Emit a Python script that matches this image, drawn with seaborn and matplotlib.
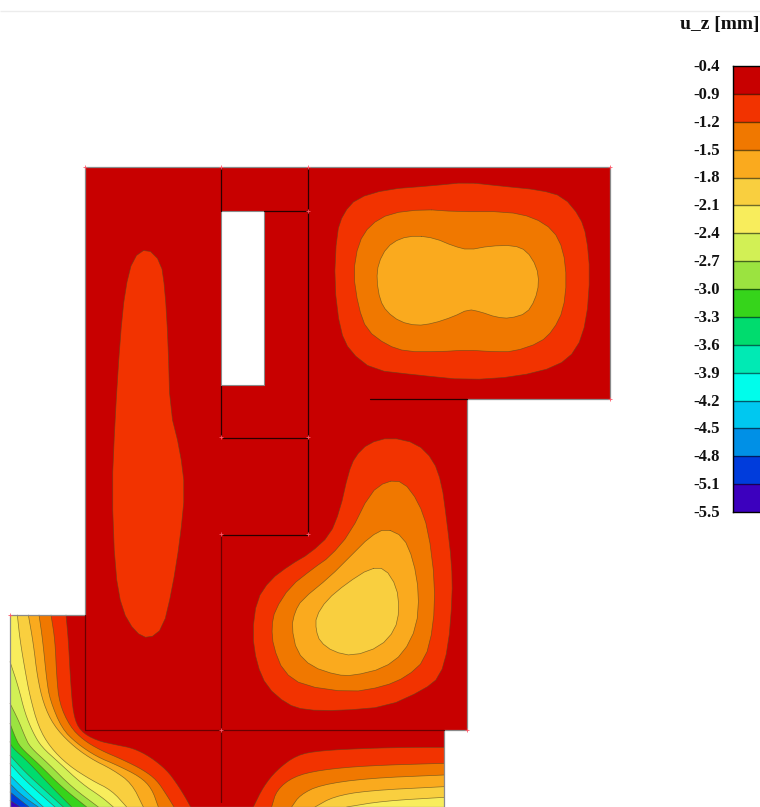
import numpy as np
import matplotlib
matplotlib.use("Agg")
import matplotlib.pyplot as plt
from matplotlib.colors import ListedColormap
from matplotlib.patches import Polygon
import seaborn as sns

# ---- legend data ----
LEGEND_TITLE = "u_z [mm]"
level_labels = ["-0.4", "-0.9", "-1.2", "-1.5", "-1.8", "-2.1", "-2.4", "-2.7", "-3.0",
                "-3.3", "-3.6", "-3.9", "-4.2", "-4.5", "-4.8", "-5.1", "-5.5"]
band_colors = ["#C80000", "#F23300", "#F07800", "#FAAA1E", "#F9CF3F", "#F8ED5C", "#D2F055",
               "#9BE340", "#36D41B", "#00DC6E", "#00EAB4", "#00FDEB", "#00C8F0", "#0090E6",
               "#003CDC", "#3C00BE"]

# ---- structure outline (plot coordinates) ----
domain = [(85, 167), (610, 167), (610, 399), (467, 399), (467, 730), (444, 730), (444, 807),
          (10, 807), (10, 615), (85, 615)]
opening = [(221, 211), (264, 211), (264, 385), (221, 385)]
dark_seams = [[(85, 615), (85, 729.5)], [(85, 729.5), (444, 729.5)], [(220.7, 534), (220.7, 802)]]
black_seams = [[(220.7, 167), (220.7, 211)], [(220.7, 386), (220.7, 436)], [(308, 167), (308, 436)],
               [(308, 439), (308, 533)], [(264, 211), (308, 211)],
               [(223, 437.5), (307, 437.5)], [(223, 535), (307, 535)], [(370, 399), (467, 399)]]
node_marks = [(85, 167), (221, 167), (308, 167), (610, 167), (610, 399), (467, 730), (10, 615),
              (221, 730), (308, 211), (308, 437), (221, 437), (308, 534), (221, 534)]

# ---- closed iso-regions: (band, outline) ----
left_c1 = [(147, 248), (133, 258), (125, 290), (120, 340), (115, 420), (112, 490), (115, 570),
           (122, 610), (135, 632), (149, 639), (163, 628), (172, 590), (180, 540), (185, 490),
           (180, 450), (170, 410), (168, 340), (165, 290), (161, 262)]


def crop(points, ox, oy):
    return [(ox + x / 3, oy + y / 3) for x, y in points]


top_c1 = crop([(500, 67), (600, 78), (720, 90), (790, 110), (840, 170), (860, 230), (870, 340),
               (860, 480), (830, 570), (770, 620), (650, 650), (500, 660), (350, 645), (220, 630),
               (150, 575), (120, 510), (103, 370), (110, 220), (130, 160), (170, 115), (260, 88),
               (400, 77)], 300, 160)
top_c2 = crop([(370, 148), (470, 155), (620, 155), (700, 172), (760, 210), (790, 270), (800, 360),
               (790, 450), (760, 510), (720, 548), (640, 575), (580, 575), (500, 570), (420, 575),
               (320, 575), (260, 555), (200, 510), (175, 440), (160, 340), (175, 250), (210, 195),
               (270, 160)], 300, 160)
top_c3 = crop([(350, 227), (405, 235), (460, 258), (505, 270), (570, 258), (640, 256), (680, 272),
               (710, 320), (717, 370), (705, 420), (680, 460), (630, 475), (590, 472), (540, 455),
               (505, 448), (460, 470), (400, 490), (350, 497), (300, 485), (260, 455), (240, 420),
               (230, 360), (235, 310), (260, 262), (300, 235)], 300, 160)
mid_c1 = crop([(450, 52), (530, 70), (580, 120), (605, 190), (620, 300), (635, 430), (637, 530),
               (625, 680), (600, 770), (550, 810), (440, 860), (300, 872), (195, 870), (140, 852),
               (80, 800), (50, 730), (37, 640), (50, 540), (90, 480), (150, 435), (210, 400),
               (270, 345), (300, 270), (325, 160), (345, 110), (385, 70)], 240, 420)
mid_c2 = crop([(440, 183), (490, 185), (535, 245), (565, 330), (585, 490), (580, 620), (555, 720),
               (500, 770), (430, 800), (330, 817), (190, 797), (130, 755), (100, 680), (95, 620),
               (105, 570), (150, 500), (220, 445), (270, 410), (330, 340), (390, 220)], 240, 420)
mid_c3 = crop([(437, 325), (490, 350), (520, 420), (537, 520), (530, 620), (490, 700), (430, 745),
               (340, 767), (290, 765), (215, 740), (170, 695), (155, 620), (165, 575), (185, 540),
               (270, 470), (330, 410), (390, 350)], 240, 420)
mid_c4 = crop([(390, 445), (435, 445), (470, 500), (478, 570), (465, 630), (420, 680), (340, 708),
               (280, 695), (240, 665), (228, 630), (228, 590), (260, 540), (320, 490)], 240, 420)
closed_regions = [(1, left_c1), (1, top_c1), (2, top_c2), (3, top_c3),
                  (1, mid_c1), (2, mid_c2), (3, mid_c3), (4, mid_c4)]

# ---- open iso-lines, bottom centre-right: band -> line, right edge to bottom edge ----
right_lines = {
    1: [(760, 621), (790, 560), (830, 510), (890, 465), (960, 452), (1100, 445), (1230, 442), (1332, 442)],
    2: [(815, 621), (830, 570), (880, 530), (960, 510), (1100, 497), (1332, 490)],
    3: [(875, 621), (900, 585), (960, 555), (1100, 535), (1332, 525)],
    4: [(945, 621), (1000, 590), (1100, 572), (1332, 560)],
    5: [(1040, 621), (1150, 603), (1332, 592)],
}


def corner(upper, lower):
    return crop(upper, 5, 640) + crop(lower, 5, 747)


# ---- open iso-lines, bottom left corner ----
corner_lines = {
    1: crop([(198, 45), (205, 120), (212, 250), (220, 345), (240, 393), (290, 422), (350, 435), (400, 445),
             (450, 470), (500, 510), (530, 550), (555, 590), (572, 621)], 0, 600),
    2: crop([(153, 45), (165, 120), (170, 230), (178, 310), (210, 380), (250, 420), (300, 450), (370, 480),
             (430, 510), (470, 540), (500, 585), (522, 621)], 0, 600),
    3: crop([(117, 45), (128, 120), (140, 240), (150, 300), (185, 385), (230, 430), (290, 470), (350, 495),
             (420, 530), (455, 565), (475, 621)], 0, 600),
    4: crop([(85, 45), (100, 130), (112, 230), (130, 310), (160, 375), (210, 430), (270, 475), (340, 510),
             (395, 550), (430, 621)], 0, 600),
    5: crop([(52, 45)], 0, 600) + corner([(45, 0), (60, 90), (75, 170), (100, 260)],
                                         [(135, 0), (190, 55), (260, 100), (320, 130), (365, 180)]),
    6: corner([(15, 65), (40, 140), (60, 220), (85, 280)],
              [(110, 0), (160, 45), (230, 110), (290, 150), (325, 180)]),
    7: corner([(15, 190), (40, 240), (60, 290)],
              [(75, 0), (130, 50), (200, 120), (280, 180)]),
    8: corner([(15, 250), (30, 290)],
              [(45, 0), (100, 50), (170, 120), (245, 180)]),
    9: corner([(15, 305)],
              [(20, 0), (70, 45), (140, 120), (200, 180)]),
    10: crop([(15, 25), (60, 75), (120, 130), (175, 180)], 5, 747),
    11: crop([(15, 50), (60, 100), (150, 180)], 5, 747),
    12: crop([(15, 85), (60, 130), (115, 180)], 5, 747),
    13: crop([(15, 110), (50, 145), (100, 180)], 5, 747),
    14: crop([(15, 135), (72, 180)], 5, 747),
    15: crop([(15, 160), (45, 180)], 5, 747),
}


def rounded(points, closed, passes):
    """Corner cutting, so the read polylines look as round as the iso-lines they trace."""
    pts = np.array(points, dtype=float)
    for _ in range(passes):
        if closed:
            nxt = np.roll(pts, -1, axis=0)
            pts = np.stack([0.75 * pts + 0.25 * nxt, 0.25 * pts + 0.75 * nxt], axis=1).reshape(-1, 2)
        else:
            a, b = pts[:-1], pts[1:]
            mid = np.stack([0.75 * a + 0.25 * b, 0.25 * a + 0.75 * b], axis=1).reshape(-1, 2)
            pts = np.vstack([pts[:1], mid, pts[-1:]])
    return [tuple(p) for p in pts]


sns.set_theme(style="white")
plt.rcParams["font.family"] = ["Liberation Serif", "DejaVu Serif"]

fig = plt.figure(figsize=(7.6, 8.07), dpi=100)
ax = fig.add_axes([0, 0, 1, 1])
ax.set_xlim(0, 760)
ax.set_ylim(807, 0)
ax.axis("off")

ISO = "#5a4a20"


def trace(points, color=ISO, lw=0.5, alpha=0.7, z=3):
    xs, ys = zip(*points)
    sns.lineplot(x=np.array(xs), y=np.array(ys), sort=False, estimator=None, color=color,
                 linewidth=lw, alpha=alpha, ax=ax, zorder=z, legend=False)


ax.hlines(11, 0, 760, color="#ececec", lw=1)
ax.add_patch(Polygon(domain, closed=True, fc=band_colors[0], ec="none", zorder=1))

for band, outline in closed_regions:
    smooth = rounded(outline, True, 1)
    ax.add_patch(Polygon(smooth, closed=True, fc=band_colors[band], ec="none", zorder=2 + band * 0.01))
    trace(smooth + smooth[:1])

for band, line in right_lines.items():
    pts = rounded(crop(line, 0, 600), False, 2)
    ax.add_patch(Polygon(pts + [(444, 807)], closed=True, fc=band_colors[band], ec="none", zorder=2 + band * 0.01))
    trace(pts)

for band, line in corner_lines.items():
    pts = rounded(line, False, 2)
    tail = [(10, 807)] if band >= 6 else [(10, 807), (10, 615)]
    ax.add_patch(Polygon(pts + tail, closed=True, fc=band_colors[band], ec="none", zorder=2 + band * 0.01))
    trace(pts)

ax.add_patch(Polygon(opening, closed=True, fc="white", ec="#8a8a8a", lw=0.8, zorder=4))
trace(domain + domain[:1], color="#8a8a8a", lw=0.9, alpha=1, z=5)
for seam in dark_seams:
    trace(seam, color="#6a0000", lw=0.9, alpha=1, z=6)
for seam in black_seams:
    trace(seam, color="#2a0000", lw=0.9, alpha=1, z=6)
nx, ny = zip(*node_marks)
ax.scatter(nx, ny, marker="+", s=12, color="#ff5a6a", linewidths=0.6, zorder=7)

# ---- legend ----
ax.text(760, 24, LEGEND_TITLE, fontsize=14, fontweight="bold", ha="right", va="center", color="#111")
top, bottom = 66, 512
cells = np.arange(len(band_colors)).reshape(-1, 1)
cax = fig.add_axes([733 / 760, 1 - bottom / 807, 27 / 760, (bottom - top) / 807])
sns.heatmap(cells, cmap=ListedColormap(band_colors), vmin=-0.5, vmax=len(band_colors) - 0.5, cbar=False,
            xticklabels=False, yticklabels=False, linewidths=0, ax=cax)
for i in range(1, len(band_colors)):
    cax.axhline(i, color="#000", lw=1.0, alpha=0.55)
for name in ("left", "top", "bottom"):
    cax.spines[name].set_visible(True)
    cax.spines[name].set_color("#000")
    cax.spines[name].set_linewidth(1.0)

for i, label in enumerate(level_labels):
    ax.text(693, top + 1 + i * (bottom - top) / (len(level_labels) - 1), label, fontsize=12, fontweight="bold",
            ha="left", va="center", color="#111")

fig.savefig("out.png", dpi=100)
